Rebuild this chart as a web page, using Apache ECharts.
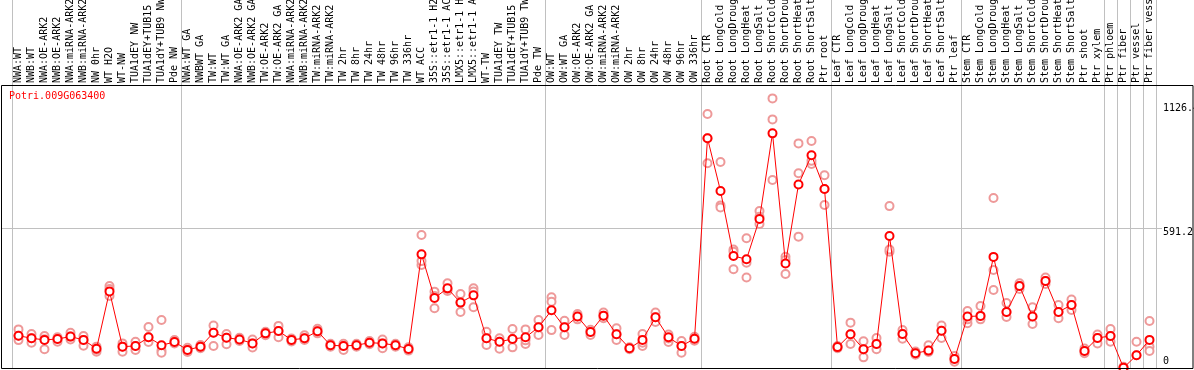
<!DOCTYPE html>
<html>
<head>
<meta charset="utf-8">
<script src="https://cdn.jsdelivr.net/npm/echarts@6/dist/echarts.min.js"></script>
<style>html,body{margin:0;padding:0;background:#fff;}#c{width:1194px;height:370px;}</style>
</head>
<body>
<div id="c"></div>
<script>
const geneName = 'Potri.009G063400';
const categories = [
 'NWA:WT','NWB:WT','NWA:OE-ARK2','NWB:OE-ARK2','NWA:miRNA-ARK2','NWB:miRNA-ARK2','NW 0hr','WT H2O','WT-NW','TUA1dEY NW','TUA1dEY+TUB15 NW','TUA1dY+TUB9 NW','Pde NW',
 'NWA:WT GA','NWBWT GA','TW:WT','TW:WT GA','NWA:OE-ARK2 GA','NWB:OE-ARK2 GA','TW:OE-ARK2','TW:OE-ARK2 GA','NWA:miRNA-ARK2 GA','NWB:miRNA-ARK2 GA','TW:miRNA-ARK2','TW:miRNA-ARK2 GA',
 'TW 2hr','TW 8hr','TW 24hr','TW 48hr','TW 96hr','TW 336hr','WT ACC','35S::etr1-1 H2O','35S::etr1-1 ACC','LMX5::etr1-1 H2O','LMX5::etr1-1 ACC','WT-TW','TUA1dEY TW','TUA1dEY+TUB15 TW','TUA1dY+TUB9 TW','Pde TW',
 'OW:WT','OW:WT GA','OW:OE-ARK2','OW:OE-ARK2 GA','OW:miRNA-ARK2','OW:miRNA-ARK2 GA','OW 2hr','OW 8hr','OW 24hr','OW 48hr','OW 96hr','OW 336hr',
 'Root CTR','Root LongCold','Root LongDrought','Root LongHeat','Root LongSalt','Root ShortCold','Root ShortDrought','Root ShortHeat','Root ShortSalt','Ptr root',
 'Leaf CTR','Leaf LongCold','Leaf LongDrought','Leaf LongHeat','Leaf LongSalt','Leaf ShortCold','Leaf ShortDrought','Leaf ShortHeat','Leaf ShortSalt','Ptr leaf',
 'Stem CTR','Stem LongCold','Stem LongDrought','Stem LongHeat','Stem LongSalt','Stem ShortCold','Stem ShortDrought','Stem ShortHeat','Stem ShortSalt','Ptr shoot','Ptr xylem',
 'Ptr phloem','Ptr fiber','Ptr vessel','Ptr fiber vessel'
];
// first index of each group (separator lines are drawn before them) + last index (right edge)
const groupStarts = [0, 13, 41, 53, 63, 73, 84, 85, 86, 87];
const meanValues = [
 130,119,112,116,126,112,74,320,83,86,123,89,103,
 69,83,143,121,114,97,140,150,112,119,149,89,86,89,100,97,89,73,479,292,333,272,303,119,104,116,123,166,
 239,166,212,146,216,136,76,112,209,123,86,117,
 977,751,472,458,631,998,440,779,904,759,
 81,136,72,94,558,137,55,66,151,30,
 212,215,468,232,343,212,365,232,262,64,120,
 129,-8,46,112
];
const rep1 = [
 157,137,129,123,143,129,83,343,97,104,167,197,111,
 78,90,174,137,121,114,147,172,118,132,160,95,95,95,107,114,95,80,562,319,355,309,333,147,119,159,157,197,
 295,194,223,155,229,162,80,137,229,135,107,125,
 1081,875,500,548,665,1148,469,955,965,818,
 86,186,106,120,686,154,62,89,174,43,
 236,257,721,270,355,252,380,262,285,75,135,
 159,-3,104,193
];
const rep2 = [
 111,100,72,104,114,87,61,300,61,69,103,66,97,
 60,76,86,93,107,79,132,123,105,112,140,83,69,83,93,76,83,66,433,248,322,232,252,90,74,80,94,133,
 154,133,200,133,205,112,72,86,189,103,57,108,
 870,689,415,380,609,798,395,555,867,691,
 76,94,37,72,490,117,48,60,120,18,
 183,200,326,210,330,180,352,205,240,55,97,
 104,-12,-14,83
];
const rep3 = [
 130,119,115,116,126,112,70,330,83,86,123,57,103,
 69,83,143,121,114,97,140,150,112,119,149,89,86,89,100,97,89,73,450,300,330,272,320,119,104,116,110,166,
 276,166,212,146,216,136,76,100,209,118,86,117,
 977,680,490,443,640,1058,455,827,880,759,
 81,136,72,94,500,137,55,66,151,30,
 200,215,412,232,343,212,365,232,262,64,120,
 129,-8,46,64
];
const yTickValues = [0, 591.2, 1126.4];
const gridLineValue = 591.2;

const FONT = 'DejaVu Sans Mono';
const GREY = '#c0c0c0';
const RED = '#ff0000';
const PINK = '#ee9999';
const Y_MIN = -12.9, Y_MAX = 1205.5;

const sepInterval = function (index) { return groupStarts.indexOf(index) >= 0; };

const repSeries = [rep1, rep2, rep3].map(function (arr, k) {
  return {
    name: 'rep' + (k + 1), type: 'line', xAxisIndex: 0, yAxisIndex: 0,
    data: arr, symbol: 'emptyCircle', symbolSize: 8, showAllSymbol: true,
    lineStyle: {width: 0, opacity: 0},
    itemStyle: {color: PINK, borderColor: PINK, borderWidth: 1},
    emphasis: {disabled: true}, silent: true, z: 2, clip: true
  };
});

const chart = echarts.init(document.getElementById('c'), null, {renderer: 'canvas'});
chart.setOption({
  animation: false,
  backgroundColor: '#fff',
  title: {
    text: geneName, left: 9, top: 91, padding: 0,
    textStyle: {color: RED, fontFamily: FONT, fontSize: 10, fontWeight: 'normal'}
  },
  grid: [
    {left: 12, right: 38, top: 85, bottom: 1, containLabel: false, outerBoundsMode: 'none'},
    {left: 12, right: 38, top: 0, height: 85, containLabel: false, outerBoundsMode: 'none'}
  ],
  xAxis: [
    {
      type: 'category', gridIndex: 0, data: categories, position: 'top', boundaryGap: true,
      axisLine: {show: false}, axisTick: {show: false},
      axisLabel: {interval: 0, rotate: 90, margin: 2, fontFamily: FONT, fontSize: 10, color: '#000', hideOverlap: false},
      splitLine: {show: true, interval: sepInterval, lineStyle: {color: GREY, width: 1}}
    },
    {
      type: 'category', gridIndex: 1, data: categories, boundaryGap: true,
      axisLine: {show: false}, axisTick: {show: false}, axisLabel: {show: false},
      splitLine: {show: true, interval: sepInterval, lineStyle: {color: GREY, width: 1}}
    }
  ],
  yAxis: [
    {
      type: 'value', gridIndex: 0, position: 'right', min: Y_MIN, max: Y_MAX,
      axisLine: {show: false}, axisTick: {show: false}, splitLine: {show: false},
      axisLabel: {
        customValues: yTickValues, margin: 7, color: '#000', fontFamily: FONT, fontSize: 10,
        formatter: function (v) { return v === 0 ? '{b|' + v + '}' : '{t|' + v + '}'; },
        rich: {
          t: {fontFamily: FONT, fontSize: 10, color: '#000', padding: [9, 0, 0, 0]},
          b: {fontFamily: FONT, fontSize: 10, color: '#000', padding: [0, 0, 9, 0]}
        }
      }
    },
    {type: 'value', gridIndex: 1, show: false}
  ],
  graphic: [{
    type: 'rect', silent: true, z: 100,
    shape: {x: 1.5, y: 85.5, width: 1191.5, height: 283},
    style: {fill: 'none', stroke: '#000', lineWidth: 1}
  }],
  series: repSeries.concat([{
    name: 'mean', type: 'line', xAxisIndex: 0, yAxisIndex: 0, data: meanValues,
    symbol: 'emptyCircle', symbolSize: 8, showAllSymbol: true,
    lineStyle: {color: RED, width: 1},
    itemStyle: {color: RED, borderColor: RED, borderWidth: 1.6},
    emphasis: {disabled: true}, silent: true, z: 3,
    markLine: {
      silent: true, symbol: 'none', label: {show: false}, animation: false,
      lineStyle: {color: GREY, width: 1, type: 'solid'},
      data: [[{x: 2, yAxis: gridLineValue}, {x: 1162, yAxis: gridLineValue}]], z: 1
    }
  }])
});
</script>
</body>
</html>
